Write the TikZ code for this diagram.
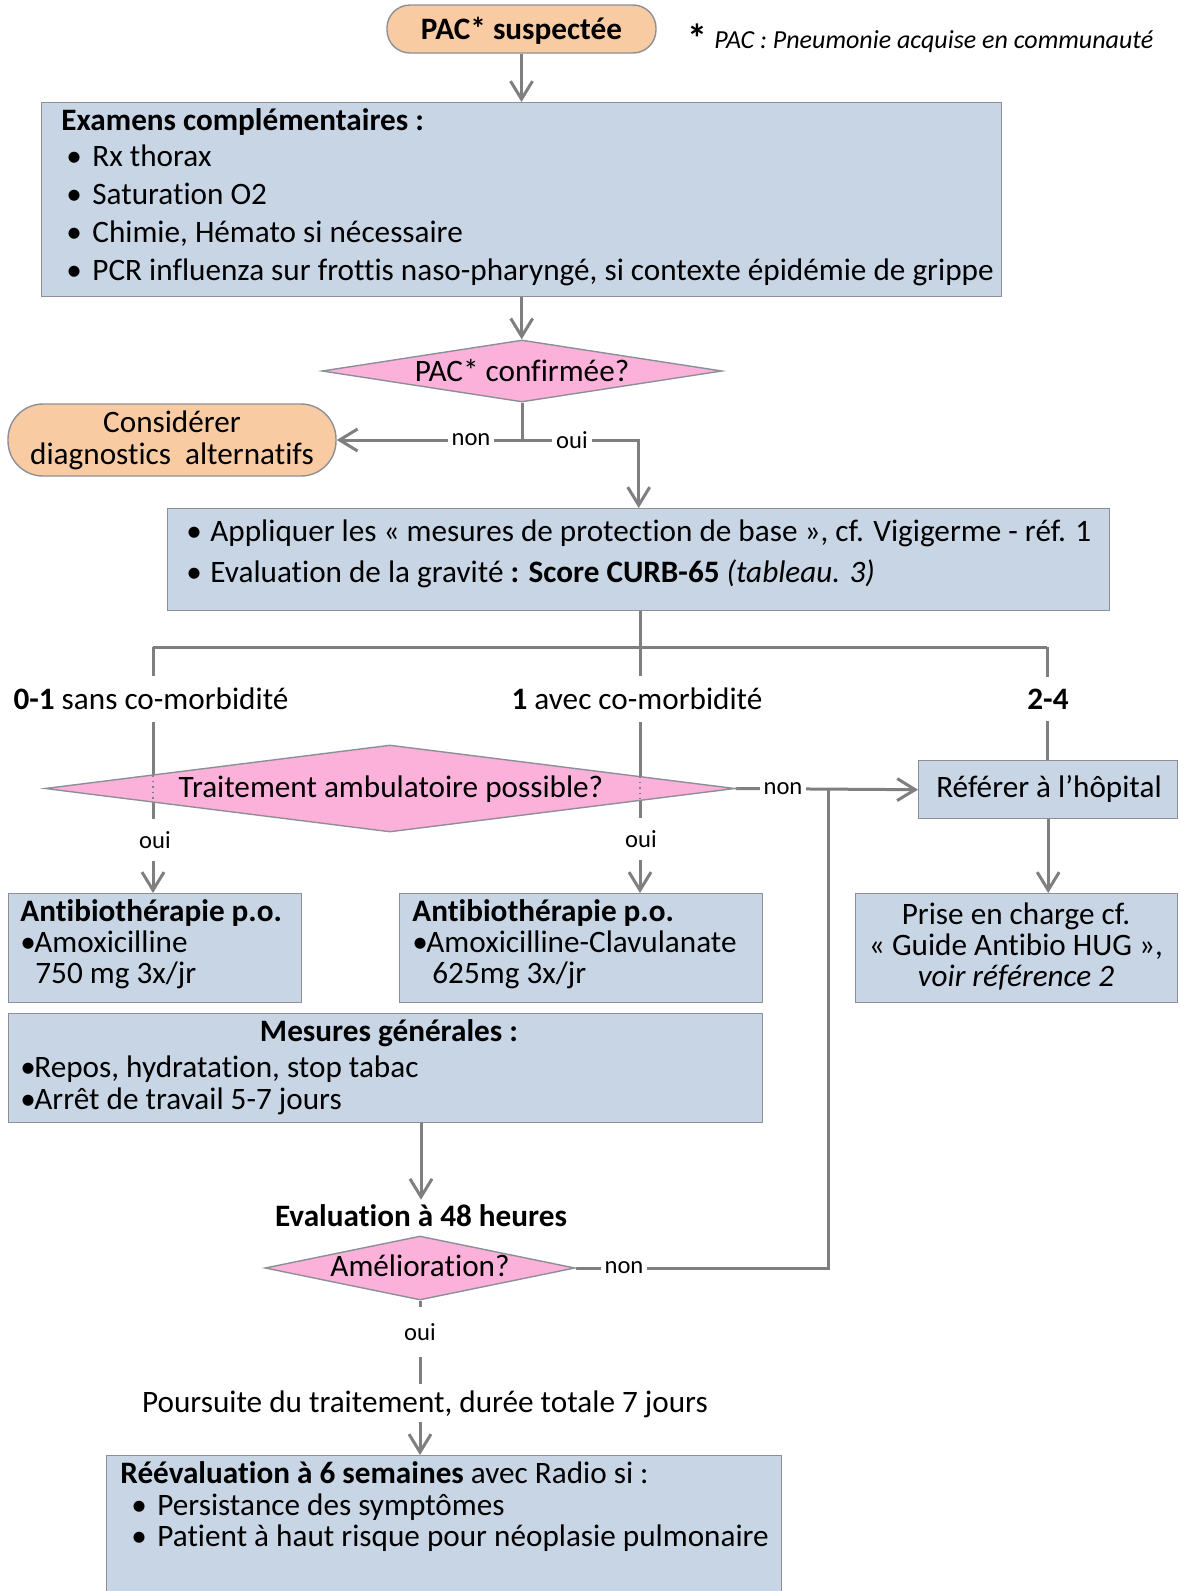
\documentclass[tikz,border=0pt]{standalone}
\usepackage{fontspec}
\setmainfont{Carlito}[Ligatures=NoCommon]
\usetikzlibrary{shapes.geometric,arrows.meta,backgrounds}
\definecolor{boxblue}{HTML}{C8D5E5}
\definecolor{boxline}{HTML}{8C9096}
\definecolor{diapink}{HTML}{FBB1DA}
\definecolor{orangefill}{HTML}{F9CBA3}
\definecolor{lineg}{HTML}{7F7F7F}
\newcommand\myfs{\fontsize{15.6}{19}\selectfont}
\newcommand\smfs{\fontsize{12.3}{14}\selectfont}
\newcommand\bul[1]{\makebox[#1][l]{\textbullet}}
\begin{document}
\begin{tikzpicture}[x=0.5pt,y=-0.5pt,
  conn/.style={draw=lineg, line width=1.5pt},
  arr/.style={conn, -{Straight Barb[length=9pt,width=11pt]}},
  bbox/.style={draw=boxline, fill=boxblue, line width=0.7pt, inner sep=0, anchor=north west},
  rbox/.style={draw=boxline, fill=orangefill, line width=0.7pt, inner sep=0},
  dia/.style={diamond, draw=boxline, fill=diapink, line width=0.7pt, inner sep=0},
  txt/.style={inner sep=0, font=\myfs},
  tl/.style={txt, anchor=base west},
  tc/.style={txt, anchor=base},
  lab/.style={fill=white, inner xsep=2pt, inner ysep=5pt, font=\smfs},
]
\useasboundingbox (0,0) rectangle (1200,1591);

% ---- nodes
\node[rbox, minimum width=134.5pt, minimum height=24pt, rounded corners=11.5pt] (susp) at (521.5,29) {};
\node[tc, font=\myfs\bfseries] (suspt) at (521.5,39) {PAC* suspectée};
\node[inner sep=0, font=\fontsize{20}{22}\selectfont\bfseries] (star) at (697,38) {*};
\node[tl, font=\fontsize{13}{15}\selectfont\itshape] (foot) at (714,48) {PAC : Pneumonie acquise en communauté};

\node[bbox, minimum width=480pt, minimum height=97pt] (exam) at (41,102) {};
\node[tl, font=\myfs\bfseries] (examt) at (61,130) {Examens complémentaires :};
\node[tl] (exa1) at (66,166) {\bul{13pt}Rx thorax};
\node[tl] (exa2) at (66,204) {\bul{13pt}Saturation O2};
\node[tl] (exa3) at (66,242) {\bul{13pt}Chimie, Hémato si nécessaire};
\node[tl] (exa4) at (66,280) {\bul{13pt}PCR influenza sur frottis naso-pharyngé, si contexte épidémie de grippe};

\node[dia, minimum width=200pt, minimum height=31pt] (conf) at (522,371) {};
\node[tc] (conft) at (522,381) {PAC* confirmée?};

\node[rbox, minimum width=164pt, minimum height=36pt, rounded corners=17.5pt] (cons) at (172,440) {};
\node[tc] (cons1) at (172,432) {Considérer};
\node[tc] (cons2) at (172,464) {diagnostics\ \ alternatifs};

\node[bbox, minimum width=471pt, minimum height=51pt] (appl) at (167,508) {};
\node[tl] (appl1) at (186,541) {\bul{12pt}Appliquer les « mesures de protection de base », cf. Vigigerme - réf. 1};
\node[tl] (appl2) at (186,582) {\bul{12pt}Evaluation de la gravité \textbf{: Score CURB-65} \textit{(tableau. 3)}};

\node[dia, minimum width=345pt, minimum height=43.5pt] (ttt) at (390,788.5) {};
\node[tc] (tttt) at (391,797) {Traitement ambulatoire possible?};

\node[bbox, minimum width=129.5pt, minimum height=29pt] (ref) at (918,760) {};
\node[tc] (reft) at (1049,797) {Référer à l’hôpital};

\node[bbox, minimum width=146.5pt, minimum height=54.5pt] (ab1) at (8,893) {};
\node[tl, font=\myfs\bfseries] (ab1a) at (20,921) {Antibiothérapie p.o.};
\node[tl] (ab1b) at (20,952) {\bul{7pt}Amoxicilline};
\node[tl] (ab1c) at (35,983) {750 mg 3x/jr};

\node[bbox, minimum width=181.5pt, minimum height=54.5pt] (ab2) at (399,893) {};
\node[tl, font=\myfs\bfseries] (ab2a) at (412,921) {Antibiothérapie p.o.};
\node[tl] (ab2b) at (412,952) {\bul{7pt}Amoxicilline-Clavulanate};
\node[tl] (ab2c) at (432,983) {625mg 3x/jr};

\node[bbox, minimum width=161pt, minimum height=54.5pt] (prise) at (855,893) {};
\node[tc] (prise1) at (1016,924) {Prise en charge cf.};
\node[tc] (prise2) at (1016,955) {« Guide Antibio HUG »,};
\node[tc, font=\myfs\itshape] (prise3) at (1016,986) {voir référence 2};

\node[bbox, minimum width=377pt, minimum height=54.5pt] (mes) at (8,1013) {};
\node[tc, font=\myfs\bfseries] (mest) at (389,1041) {Mesures générales :};
\node[tl] (mes1) at (20,1077) {\bul{7pt}Repos, hydratation, stop tabac};
\node[tl] (mes2) at (20,1109) {\bul{7pt}Arrêt de travail 5-7 jours};

\node[tc, font=\myfs\bfseries] (eval) at (421,1226) {Evaluation à 48 heures};
\node[dia, minimum width=155pt, minimum height=32pt] (amel) at (420,1268) {};
\node[tc] (amelt) at (420,1276) {Amélioration?};

\node[tc] (pours) at (425,1412) {Poursuite du traitement, durée totale 7 jours};

\node[bbox, minimum width=337.5pt, minimum height=75pt] (reev) at (106,1455) {};
\node[tl] (reev1) at (120,1483) {\textbf{Réévaluation à 6 semaines} avec Radio si :};
\node[tl] (reev2) at (131,1515) {\bul{13pt}Persistance des symptômes};
\node[tl] (reev3) at (131,1546) {\bul{13pt}Patient à haut risque pour néoplasie pulmonaire};

% ---- coordinates
\coordinate (j1) at (conf.south |- cons.east);
\coordinate (bl) at (153,647);
\coordinate (bm) at (640,647);
\coordinate (brr) at (1047,647);
\coordinate (jr) at (828,1268);

% ---- connectors
\begin{scope}[on background layer]
\draw[arr] (susp.south) -- (susp.south |- exam.north);
\draw[arr] (exam.south) -- (exam.south |- conf.north);
\draw[conn] (conf.south) -- (j1);
\draw[arr] (j1) -- (cons.east);
\draw[arr] (j1) -| (appl.north);
\draw[conn] (bm |- appl.south) -- (bm);
\draw[conn] (bl) -- (brr);
\draw[arr] (bl) -- (bl |- ab1.north);
\draw[arr] (bm) -- (bm |- ab2.north);
\draw[conn] (brr) -- (brr |- ref.north);
\draw[arr] (ref.south) -- (ref.south |- prise.north);
\draw[arr] (ttt.east) -- (ref.west);
\draw[conn] (amel.east) -- (jr) -- (jr |- ttt.east);
\draw[arr] (eval.north |- mes.south) -- ([yshift=2pt]eval.north);
\draw[conn] (amel.south) -- ([yshift=3pt]amel.south |- pours.north);
\draw[arr] ([yshift=-2pt]amel.south |- pours.south) -- (amel.south |- reev.north);
\end{scope}
\draw[lineg, line width=0.8pt, dotted] (153,775) -- (153,801);
\draw[lineg, line width=0.8pt, dotted] (640,776) -- (640,799);

% ---- labels on connectors
\node[lab] (lnon1) at (471,440) {non};
\node[lab] (loui1) at (572,440) {oui};
\node[lab, font=\myfs, inner ysep=6pt] (s1) at (151,699) {\textbf{0-1} sans co-morbidité};
\node[lab, font=\myfs, inner ysep=6pt] (s2) at (637,699) {\textbf{1} avec co-morbidité};
\node[lab, font=\myfs\bfseries, inner ysep=6pt] (s3) at (1048,699) {2-4};
\node[lab, inner ysep=6pt] (loui2) at (155,840) {oui};
\node[lab, inner ysep=6pt] (loui3) at (641,839) {oui};
\node[lab] (lnon2) at (783,788.5) {non};
\node[lab] (lnon3) at (624,1268) {non};
\node[lab, inner ysep=8pt] (loui4) at (420,1332) {oui};
\end{tikzpicture}
\end{document}
